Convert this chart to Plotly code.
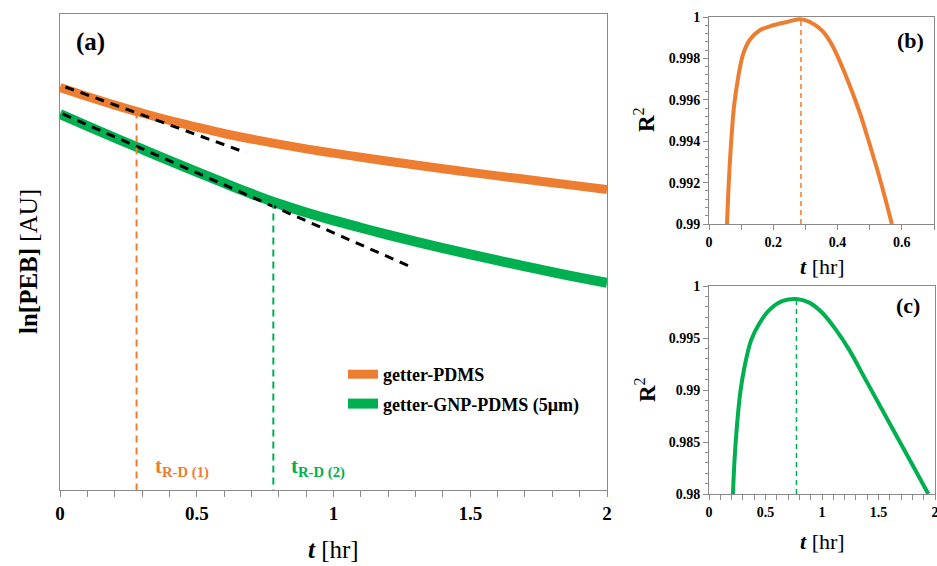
import plotly.graph_objects as go

# ---------------- data ----------------
t_main = [0.0, 0.1, 0.2, 0.3, 0.4, 0.5, 0.6, 0.7, 0.8, 0.9, 1.0,
          1.1, 1.2, 1.3, 1.4, 1.5, 1.6, 1.7, 1.8, 1.9, 2.0]
ln_peb_pdms = [-0.463, -0.520, -0.574, -0.624, -0.671, -0.713, -0.753, -0.788, -0.820, -0.850, -0.877,
               -0.903, -0.928, -0.952, -0.975, -0.998, -1.020, -1.042, -1.063, -1.085, -1.106]
ln_peb_gnp = [-0.630, -0.706, -0.780, -0.852, -0.924, -0.995, -1.065, -1.133, -1.196, -1.251, -1.301,
              -1.347, -1.392, -1.434, -1.475, -1.515, -1.553, -1.590, -1.627, -1.661, -1.695]

fit1_t = [0.02, 0.68]
fit1_y = [-0.460, -0.874]
fit2_t = [0.01, 1.285]
fit2_y = [-0.630, -1.595]

t_rd1 = 0.28
t_rd2 = 0.78
ln_at_rd1 = -0.614
ln_at_rd2 = -1.182
ln_bottom = -3.0

t_b = [0.056, 0.0625, 0.070, 0.078, 0.091, 0.106, 0.127, 0.158, 0.200, 0.242, 0.283,
       0.3225, 0.3535, 0.3845, 0.426, 0.467, 0.498, 0.529, 0.569]
r2_b = [0.9900, 0.9923, 0.9942, 0.9957, 0.9971, 0.9982, 0.9989, 0.99936, 0.9996, 0.99976, 0.99989,
        0.99969, 0.99932, 0.9986, 0.99715, 0.99547, 0.99394, 0.99233, 0.9900]
t_peak_b = 0.286
r2_peak_b = 0.99989

t_c = [0.212, 0.226, 0.247, 0.276, 0.315, 0.374, 0.447, 0.535, 0.653, 0.771, 0.888,
       1.006, 1.124, 1.241, 1.388, 1.535, 1.682, 1.829, 1.941]
r2_c = [0.9800, 0.9833, 0.9865, 0.9897, 0.99226, 0.99482, 0.99642, 0.9977, 0.99856, 0.99875, 0.9984,
        0.99738, 0.99578, 0.99386, 0.99095, 0.98805, 0.98515, 0.98224, 0.9800]
t_peak_c = 0.774
r2_peak_c = 0.99875

main_xticks = [0, 0.5, 1, 1.5, 2]
main_xlabels = ["0", "0.5", "1", "1.5", "2"]
b_xticks = [0, 0.2, 0.4, 0.6]
b_xlabels = ["0", "0.2", "0.4", "0.6"]
b_yticks = [0.99, 0.992, 0.994, 0.996, 0.998, 1.0]
b_ylabels = ["0.99", "0.992", "0.994", "0.996", "0.998", "1"]
c_xticks = [0, 0.5, 1, 1.5, 2]
c_xlabels = ["0", "0.5", "1", "1.5", "2"]
c_yticks = [0.98, 0.985, 0.99, 0.995, 1.0]
c_ylabels = ["0.98", "0.985", "0.99", "0.995", "1"]

# ---------------- style ----------------
ORANGE = "#ED7D31"
GREEN = "#00B050"
FRAME = "#8a8a8a"
FONT = "Liberation Serif"

fig = go.Figure()

fig.add_trace(go.Scatter(x=t_main, y=ln_peb_pdms, mode="lines", name="getter-PDMS", legendgroup="a",
                         line=dict(color=ORANGE, width=9, shape="spline"), xaxis="x", yaxis="y"))
fig.add_trace(go.Scatter(x=t_main, y=ln_peb_gnp, mode="lines", name="getter-GNP-PDMS (5μm)", legendgroup="b",
                         line=dict(color=GREEN, width=10, shape="spline"), xaxis="x", yaxis="y"))
fig.add_trace(go.Scatter(x=fit1_t, y=fit1_y, mode="lines", showlegend=False,
                         line=dict(color="black", width=3, dash="9px,7px"), xaxis="x", yaxis="y"))
fig.add_trace(go.Scatter(x=fit2_t, y=fit2_y, mode="lines", showlegend=False,
                         line=dict(color="black", width=3, dash="9px,7px"), xaxis="x", yaxis="y"))
fig.add_trace(go.Scatter(x=[t_rd1, t_rd1], y=[ln_at_rd1, ln_bottom], mode="lines", showlegend=False,
                         line=dict(color=ORANGE, width=2, dash="7px,5px"), xaxis="x", yaxis="y"))
fig.add_trace(go.Scatter(x=[t_rd2, t_rd2], y=[ln_at_rd2, ln_bottom], mode="lines", showlegend=False,
                         line=dict(color=GREEN, width=2, dash="7px,5px"), xaxis="x", yaxis="y"))

fig.add_trace(go.Scatter(x=t_b, y=r2_b, mode="lines", showlegend=False,
                         line=dict(color=ORANGE, width=4, shape="spline"), xaxis="x2", yaxis="y2"))
fig.add_trace(go.Scatter(x=[t_peak_b, t_peak_b], y=[b_yticks[0], r2_peak_b], mode="lines", showlegend=False,
                         line=dict(color=ORANGE, width=1.5, dash="5px,4px"), xaxis="x2", yaxis="y2"))
fig.add_trace(go.Scatter(x=t_c, y=r2_c, mode="lines", showlegend=False,
                         line=dict(color=GREEN, width=4, shape="spline"), xaxis="x3", yaxis="y3"))
fig.add_trace(go.Scatter(x=[t_peak_c, t_peak_c], y=[c_yticks[0], r2_peak_c], mode="lines", showlegend=False,
                         line=dict(color=GREEN, width=1.5, dash="5px,4px"), xaxis="x3", yaxis="y3"))

W, H = 937, 566


def px(x):
    return x / W


def py(y):
    return 1 - y / H


axis_common = dict(showline=True, linecolor=FRAME, linewidth=1, mirror=True, showgrid=False,
                   zeroline=False, ticks="outside", tickcolor=FRAME, automargin=False)

fig.update_layout(
    width=W, height=H, margin=dict(l=0, r=0, t=0, b=0, autoexpand=False),
    plot_bgcolor="white", paper_bgcolor="white",
    font=dict(family=FONT, color="black"),
    xaxis=dict(domain=[px(60), px(607)], range=[0, 2], anchor="y",
               tickvals=main_xticks, ticktext=main_xlabels, ticklen=6,
               tickfont=dict(size=19, weight="bold", family=FONT),
               minor=dict(dtick=0.1, tick0=0, ticks="outside", ticklen=6, tickcolor=FRAME),
               **axis_common),
    yaxis=dict(domain=[py(490), py(14)], range=[ln_bottom, 0], anchor="x",
               showticklabels=False, **{k: v for k, v in axis_common.items() if k != "ticks"}, ticks=""),
    xaxis2=dict(domain=[px(709), px(934)], range=[0, 0.7], anchor="y2",
                tickvals=b_xticks, ticktext=b_xlabels, ticklen=5,
                tickfont=dict(size=14, weight="bold", family=FONT),
                minor=dict(dtick=0.1, tick0=0, ticks="outside", ticklen=5, tickcolor=FRAME),
                **axis_common),
    yaxis2=dict(domain=[py(224), py(17)], range=[0.99, 1.0], anchor="x2",
                tickvals=b_yticks, ticktext=b_ylabels, ticklen=5,
                tickfont=dict(size=14, weight="bold", family=FONT),
                minor=dict(dtick=0.0004, tick0=0.99, ticks="outside", ticklen=3, tickcolor=FRAME),
                **axis_common),
    xaxis3=dict(domain=[px(709), px(935)], range=[0, 2], anchor="y3",
                tickvals=c_xticks, ticktext=c_xlabels, ticklen=5, ticklabeloverflow="allow",
                tickfont=dict(size=14, weight="bold", family=FONT),
                minor=dict(dtick=0.1, tick0=0, ticks="outside", ticklen=5, tickcolor=FRAME),
                **axis_common),
    yaxis3=dict(domain=[py(494), py(286)], range=[0.98, 1.0], anchor="x3",
                tickvals=c_yticks, ticktext=c_ylabels, ticklen=5,
                tickfont=dict(size=14, weight="bold", family=FONT),
                minor=dict(dtick=0.001, tick0=0.98, ticks="outside", ticklen=3, tickcolor=FRAME),
                **axis_common),
    legend=dict(x=px(343), y=py(356), xanchor="left", yanchor="top",
                bgcolor="rgba(0,0,0,0)", itemwidth=30, tracegroupgap=3,
                font=dict(size=18, weight="bold", family=FONT, color="black")),
)

ann = [
    dict(text="<b>(a)</b>", x=px(74), y=py(42), xanchor="left", yanchor="middle", font=dict(size=25)),
    dict(text="<b>(b)</b>", x=px(910), y=py(40), xanchor="center", yanchor="middle", font=dict(size=22)),
    dict(text="<b>(c)</b>", x=px(908), y=py(305), xanchor="center", yanchor="middle", font=dict(size=22)),
    dict(text="<b>ln[PEB]</b> [AU]", x=px(28), y=py(262), textangle=-90, xanchor="center", yanchor="middle",
         font=dict(size=25)),
    dict(text="<b><i>t</i></b> [hr]", x=px(333), y=py(549), xanchor="center", yanchor="middle",
         font=dict(size=25)),
    dict(text="<b>R</b><sup>2</sup>", x=px(645), y=py(120), textangle=-90, xanchor="center", yanchor="middle",
         font=dict(size=23)),
    dict(text="<b><i>t</i></b> [hr]", x=px(822), y=py(266), xanchor="center", yanchor="middle",
         font=dict(size=22)),
    dict(text="<b>R</b><sup>2</sup>", x=px(645), y=py(390), textangle=-90, xanchor="center", yanchor="middle",
         font=dict(size=23)),
    dict(text="<b><i>t</i></b> [hr]", x=px(822), y=py(541), xanchor="center", yanchor="middle",
         font=dict(size=22)),
    dict(text="<b>t<sub>R-D (1)</sub></b>", x=px(153), y=py(467), xanchor="left", yanchor="middle",
         font=dict(size=21, color=ORANGE)),
    dict(text="<b>t<sub>R-D (2)</sub></b>", x=px(289), y=py(467), xanchor="left", yanchor="middle",
         font=dict(size=21, color=GREEN)),
]
for a in ann:
    a.update(xref="paper", yref="paper", showarrow=False)
    a["font"] = dict(family=FONT, color=a["font"].get("color", "black"), size=a["font"]["size"])
fig.update_layout(annotations=ann)

fig.write_html("out.html", config={"displayModeBar": False},
               post_script="document.body.style.margin='0';document.body.style.padding='0';"
                           "document.body.style.overflow='hidden';")
